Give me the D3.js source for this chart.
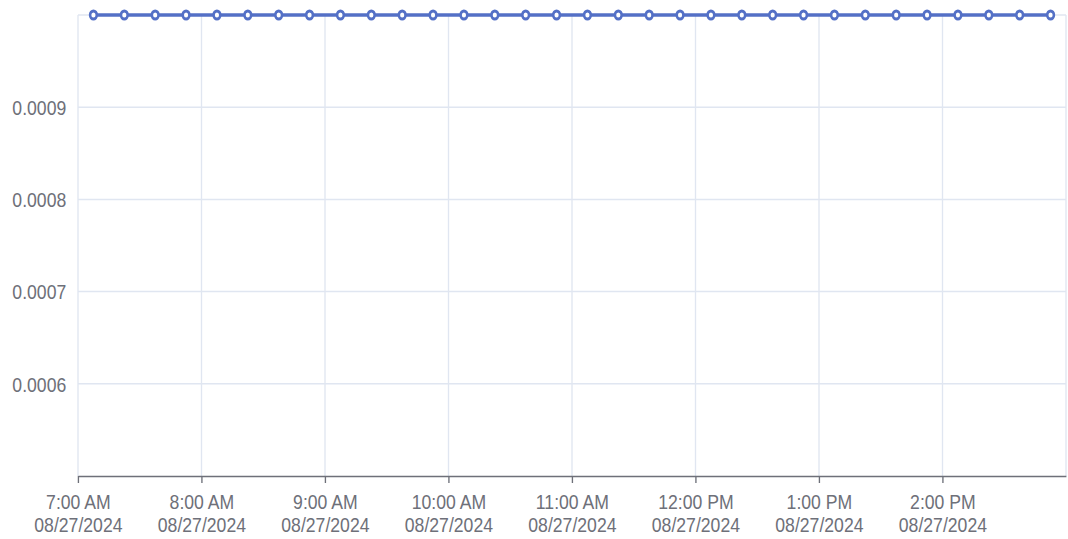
<!DOCTYPE html>
<html>
<head>
<meta charset="utf-8">
<script src="https://cdn.jsdelivr.net/npm/d3@7"></script>
<style>
  html, body { margin: 0; padding: 0; background: #fff; }
  svg { display: block; }
  text { font-family: "Liberation Sans", Arial, Helvetica, sans-serif; }
</style>
</head>
<body>
<svg id="chart"></svg>
<script>
// ── Data ────────────────────────────────────────────────────────────────────
const sampleTimes = [
  '07:07:30', '07:22:30', '07:37:30', '07:52:30', '08:07:30', '08:22:30', '08:37:30', '08:52:30',
  '09:07:30', '09:22:30', '09:37:30', '09:52:30', '10:07:30', '10:22:30', '10:37:30', '10:52:30',
  '11:07:30', '11:22:30', '11:37:30', '11:52:30', '12:07:30', '12:22:30', '12:37:30', '12:52:30',
  '13:07:30', '13:22:30', '13:37:30', '13:52:30', '14:07:30', '14:22:30', '14:37:30', '14:52:30'
];
const sampleValues = [
  0.001, 0.001, 0.001, 0.001, 0.001, 0.001, 0.001, 0.001,
  0.001, 0.001, 0.001, 0.001, 0.001, 0.001, 0.001, 0.001,
  0.001, 0.001, 0.001, 0.001, 0.001, 0.001, 0.001, 0.001,
  0.001, 0.001, 0.001, 0.001, 0.001, 0.001, 0.001, 0.001
];
const day = '2024-08-27';
const xDomain = ['07:00', '15:00'];
const xTickTimes = ['07:00', '08:00', '09:00', '10:00', '11:00', '12:00', '13:00', '14:00'];
const xGridTimes = ['07:00', '08:00', '09:00', '10:00', '11:00', '12:00', '13:00', '14:00', '15:00'];
const yDomain = [0.0005, 0.001];
const yTickValues = [0.0006, 0.0007, 0.0008, 0.0009];
const yGridValues = [0.0006, 0.0007, 0.0008, 0.0009, 0.001];

// ── Layout ──────────────────────────────────────────────────────────────────
// the reference is squeezed horizontally, so draw wider and let the viewBox squash it
const SX = 0.84;
const W = 1068 / SX, H = 539;
const plotLeft = 78 / SX, plotRight = 1066 / SX, plotTop = 15, plotBottom = 476;
const axisColor = '#6e7079';
const gridColor = '#e0e6f1';
const lineColor = '#5470c6';

const parse = d3.timeParse('%Y-%m-%d %H:%M:%S');
const t = s => parse(`${day} ${s.length === 5 ? s + ':00' : s}`);
const data = sampleTimes.map((s, i) => ({ date: t(s), value: sampleValues[i] }));

const svg = d3.select('#chart')
  .attr('width', 1068)
  .attr('height', 539)
  .attr('viewBox', `0 0 ${W} ${H}`)
  .attr('preserveAspectRatio', 'none');

const x = d3.scaleTime().domain(xDomain.map(t)).range([plotLeft, plotRight]);
const y = d3.scaleLinear().domain(yDomain).range([plotBottom, plotTop]);

// ── Grid ────────────────────────────────────────────────────────────────────
svg.append('g')
  .selectAll('line.hgrid')
  .data(yGridValues)
  .join('line')
  .attr('class', 'hgrid')
  .attr('x1', plotLeft).attr('x2', plotRight)
  .attr('y1', d => y(d)).attr('y2', d => y(d))
  .attr('stroke', gridColor)
  .attr('stroke-width', 1.5);

svg.append('g')
  .selectAll('line.vgrid')
  .data(xGridTimes.map(t))
  .join('line')
  .attr('class', 'vgrid')
  .attr('x1', d => x(d)).attr('x2', d => x(d))
  .attr('y1', plotTop).attr('y2', plotBottom)
  .attr('stroke', gridColor)
  .attr('stroke-width', 1.6);

// ── Axes ────────────────────────────────────────────────────────────────────
const yAxis = svg.append('g')
  .attr('transform', `translate(${plotLeft},0)`)
  .call(d3.axisLeft(y).tickValues(yTickValues).tickSize(0).tickPadding(14).tickFormat(d3.format('.4f')));
yAxis.select('.domain').remove();
yAxis.selectAll('text')
  .attr('fill', axisColor)
  .attr('font-size', 21)
  .attr('dy', '0.35em');

const fmtTime = d3.timeFormat('%-I:%M %p');
const fmtDate = d3.timeFormat('%m/%d/%Y');

const xAxis = svg.append('g')
  .attr('transform', `translate(0,${plotBottom})`)
  .call(d3.axisBottom(x).tickValues(xTickTimes.map(t)).tickSize(7).tickSizeOuter(0));
xAxis.select('.domain').attr('stroke', axisColor).attr('stroke-width', 1.6);
xAxis.selectAll('.tick line').attr('stroke', axisColor).attr('stroke-width', 1.6);
xAxis.selectAll('.tick text').each(function (d) {
  const txt = d3.select(this).text(null).attr('y', 0).attr('dy', null)
    .attr('fill', axisColor).attr('font-size', 21);
  txt.append('tspan').attr('x', 0).attr('y', 33).text(fmtTime(d));
  txt.append('tspan').attr('x', 0).attr('y', 56).text(fmtDate(d));
});

// ── Series ──────────────────────────────────────────────────────────────────
const line = d3.line().x(d => x(d.date)).y(d => y(d.value));

svg.append('path')
  .datum(data)
  .attr('d', line)
  .attr('fill', 'none')
  .attr('stroke', lineColor)
  .attr('stroke-width', 3.5);

svg.append('g')
  .selectAll('circle')
  .data(data)
  .join('circle')
  .attr('cx', d => x(d.date))
  .attr('cy', d => y(d.value))
  .attr('r', 4)
  .attr('fill', '#fff')
  .attr('stroke', lineColor)
  .attr('stroke-width', 3);
</script>
</body>
</html>
